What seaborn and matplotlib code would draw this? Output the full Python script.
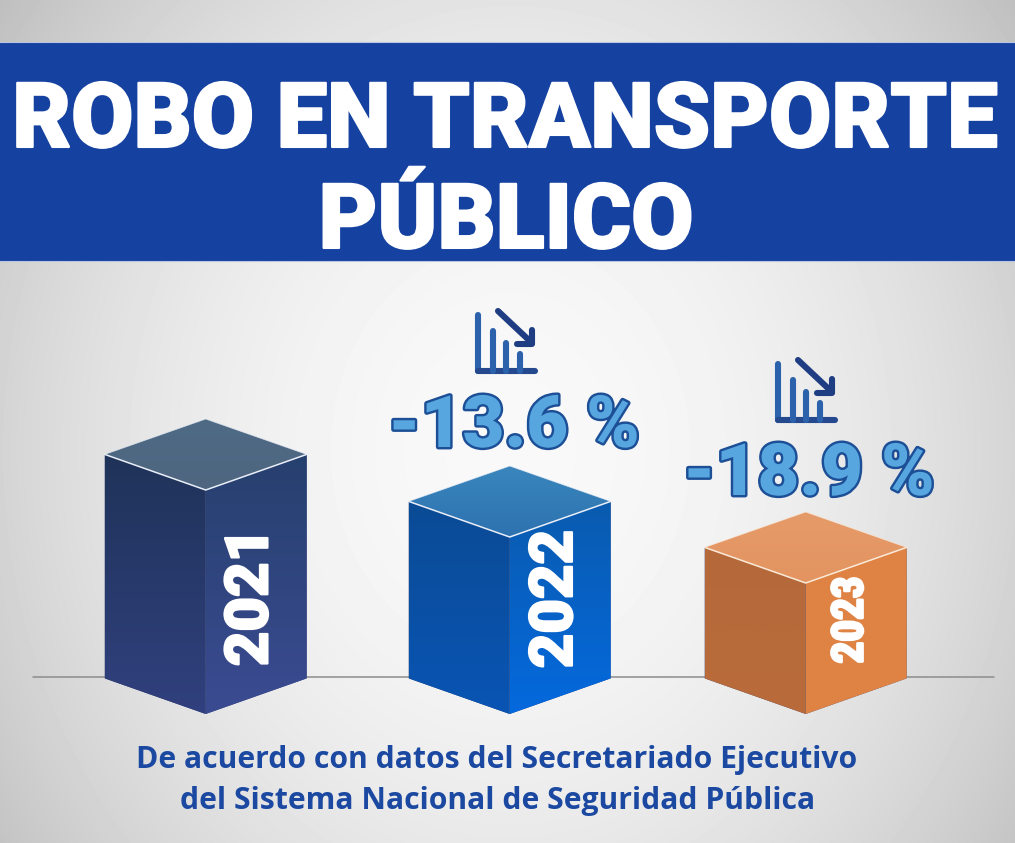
import numpy as np
import pandas as pd
import seaborn as sns
import matplotlib.pyplot as plt
from matplotlib.colors import LinearSegmentedColormap
from matplotlib.patches import Polygon, Rectangle
from matplotlib.transforms import Affine2D
import matplotlib.patheffects as pe

anios = ["2021", "2022", "2023"]
alturas = [224, 177, 131]
variaciones = ["", "-13.6 %", "-18.9 %"]
caras = ["izq", "der"]

titulo = ["ROBO EN TRANSPORTE", "PÚBLICO"]
fuente = ["De acuerdo con datos del Secretariado Ejecutivo",
          "del Sistema Nacional de Seguridad Pública"]

col_izq = [("#1f3359", "#31407e"), ("#0b4b95", "#0955b4"), ("#b5693a", "#b96b3a")]
col_der = [("#26406e", "#3b4b92"), ("#0a5bae", "#0469de"), ("#df8345", "#e08344")]
col_tapa = [("#4e6a85", "#4f6680"), ("#3a86bc", "#2c72b0"), ("#e59b69", "#e39460")]

W, H = 1015, 843
BASE = 714       # vertice inferior de las cajas, en pixeles
SEP = 300        # pixeles entre categorias
X0 = 205.7
PEND = 35.6 / 101
MEDIO = 101
AJUSTE = [0, 4, 0]

sns.set_theme(style="white")
plt.rcParams["font.family"] = ["Roboto", "DejaVu Sans"]

fig = plt.figure(figsize=(W / 100, H / 100), dpi=100)
ax = fig.add_axes([0, 0, 1, 1])
pix = Affine2D().scale(1, -1).translate(0, H)


def degradado(c1, c2, box, clip=None, z=3):
    cmap = LinearSegmentedColormap.from_list("g", [c1, c2])
    im = ax.imshow(np.linspace(0, 1, 128).reshape(-1, 1), cmap=cmap, aspect="auto",
                   extent=box, transform=pix, zorder=z, interpolation="bilinear")
    if clip is not None:
        im.set_clip_path(clip.get_path(), clip.get_transform())
    return im


# fondo gris con centro claro
yy, xx = np.mgrid[0:H, 0:W]
r = np.sqrt(((xx - 510) / 600) ** 2 + ((yy - 450) / 700) ** 2)
fondo = 0.975 - 0.2 * r ** 2
ax.imshow(fondo, cmap="gray", vmin=0, vmax=1, extent=(0, W, H, 0), transform=pix,
          aspect="auto", zorder=0)

# barras: dos caras por anio, luego se inclinan
df = pd.DataFrame({"anio": anios * 2, "altura": alturas * 2,
                   "cara": [c for c in caras for _ in anios]})
sns.barplot(data=df, x="anio", y="altura", hue="cara", hue_order=caras, ax=ax,
            width=2 * MEDIO / SEP, gap=0, dodge=True, legend=False,
            palette=["#31407e", "#3b4b92"], linewidth=0, zorder=2)

ax.set_xlim(-X0 / SEP, (W - X0) / SEP)
ax.set_ylim(BASE - H, BASE)
ax.axis("off")

# linea de piso
ax.add_line(plt.Line2D([33, 994], [677, 677], transform=pix, color="#8c8c8c", lw=1.1, zorder=1))

for j, cont in enumerate(ax.containers):
    signo = -1 if j == 0 else 1
    for i, bar in enumerate(cont.patches):
        cx = X0 + i * SEP
        k = signo * PEND
        corte = Affine2D.from_values(1, k, 0, 1, AJUSTE[i], -k * cx)
        bar.set_transform(ax.transData + corte)
        cx += AJUSTE[i]
        y_top = BASE - bar.get_height()
        x0, x1 = (cx - MEDIO, cx) if j == 0 else (cx, cx + MEDIO)
        c = col_izq[i] if j == 0 else col_der[i]
        degradado(c[0], c[1], (x0, x1, BASE, y_top - 36), clip=bar)

# tapas y filos
for i, h in enumerate(alturas):
    cx = X0 + i * SEP + AJUSTE[i]
    yf = BASE - h
    d = MEDIO * PEND
    tapa = Polygon([(cx, yf), (cx - MEDIO, yf - d), (cx, yf - 71), (cx + MEDIO, yf - d)],
                   closed=True, transform=pix, facecolor="none", edgecolor="none", zorder=4)
    ax.add_patch(tapa)
    degradado(col_tapa[i][0], col_tapa[i][1], (cx - MEDIO, cx + MEDIO, yf, yf - 71), clip=tapa, z=4)
    borde = "#fbe9d8" if i == 2 else "#e9eef8"
    ax.add_line(plt.Line2D([cx - MEDIO, cx, cx + MEDIO], [yf - d, yf, yf - d], transform=pix,
                           color=borde, lw=1.1, zorder=5))
    ax.add_line(plt.Line2D([cx - MEDIO, cx, cx + MEDIO], [yf - d, yf - 71, yf - d], transform=pix,
                           color=borde, lw=0.6, alpha=0.7, zorder=5))

# anios sobre la cara derecha
y_txt = [("2021", 251.5, 597, 43, "Roboto", 900, 1.5), ("2022", 556, 599, 43, "Roboto", 900, 1.5),
         ("2023", 851, 620, 31, "Roboto Condensed", 700, 2)]
for t, x, y, fs, fam, peso, trazo in y_txt:
    ax.text(x, y, t, transform=pix, rotation=90, ha="center", va="center", color="white",
            fontsize=fs, fontweight=peso, family=[fam, "DejaVu Sans"], zorder=6,
            path_effects=[pe.withStroke(linewidth=trazo, foreground="white")])


def icono(dx, dy):
    c1, c2 = "#2c62ab", "#1f3d82"
    kw = dict(transform=pix, lw=4.4, solid_capstyle="round", zorder=6)
    ax.add_line(plt.Line2D(np.array([478, 478]) + dx, np.array([315, 371]) + dy, color=c1, **kw))
    ax.add_line(plt.Line2D(np.array([478, 535]) + dx, np.array([371, 371]) + dy, color="#25498f", **kw))
    for x, y in [(493, 331), (506, 343), (520, 354)]:
        ax.add_line(plt.Line2D(np.array([x, x]) + dx, np.array([y, 371]) + dy, color=c1, **kw))
    ax.add_line(plt.Line2D(np.array([498, 532]) + dx, np.array([311, 343]) + dy, color=c2, **kw))
    ax.add_line(plt.Line2D(np.array([532, 532, 517]) + dx, np.array([330, 344, 344]) + dy, color=c2, **kw))


icono(0, 0)
icono(300, 49)

# variaciones
pos_var = [None, (514, 447), (809, 495)]
for i, txt in enumerate(variaciones):
    if not txt:
        continue
    ax.text(pos_var[i][0], pos_var[i][1], txt, transform=pix, ha="center", va="baseline",
            fontsize=52, fontweight=900, color="#58a6e0", zorder=6,
            path_effects=[pe.withStroke(linewidth=3.5, foreground="#1c4f96")])

# franja del titulo
ax.add_patch(Rectangle((-5, 42), W + 10, 219, transform=pix, facecolor="#1541a0",
                       edgecolor="#b9c6e2", lw=0.8, zorder=5))
ax.text(505, 147, titulo[0], transform=pix, ha="center", va="baseline", color="white",
        fontsize=65, fontweight=900, zorder=6,
        path_effects=[pe.withStroke(linewidth=1.5, foreground="white")])
ax.text(506, 248, titulo[1], transform=pix, ha="center", va="baseline", color="white",
        fontsize=65, fontweight=900, zorder=6,
        path_effects=[pe.withStroke(linewidth=1.5, foreground="white")])

# fuente
ax.text(497, 760, fuente[0], transform=pix, ha="center", va="center", color="#1b49a1",
        fontsize=21.7, fontweight="bold", family=["Open Sans", "DejaVu Sans"], zorder=6)
ax.text(498, 801, fuente[1], transform=pix, ha="center", va="center", color="#1b49a1",
        fontsize=21.7, fontweight="bold", family=["Open Sans", "DejaVu Sans"], zorder=6)

fig.savefig("out.png", dpi=100)
